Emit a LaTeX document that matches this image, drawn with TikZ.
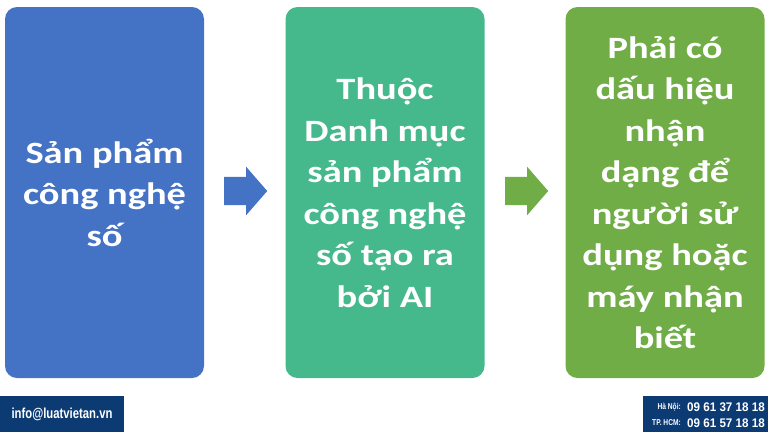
\documentclass[tikz,border=0pt]{standalone}
\usepackage{fontspec}
\setmainfont{Carlito}
\newfontfamily\boxfont[FakeStretch=1.24]{Carlito}
\newfontfamily\condfont[FakeStretch=0.78]{Liberation Sans}
\newfontfamily\numfont[FakeStretch=0.93]{Liberation Sans}
\usetikzlibrary{shapes.arrows}
\definecolor{stageblue}{RGB}{68,114,196}
\definecolor{stageteal}{RGB}{70,185,140}
\definecolor{stagegreen}{RGB}{112,173,71}
\definecolor{navy}{RGB}{12,58,115}
\tikzset{
	stage/.style={rectangle,rounded corners=12pt,minimum width=199pt,minimum height=371pt,inner sep=0pt,align=center,text=white,font=\boxfont\bfseries\fontsize{31}{41.5}\selectfont},
	flow/.style={single arrow,anchor=tail,minimum height=43pt,inner xsep=0pt,inner ysep=14pt,single arrow head extend=10pt,single arrow tip angle=98},
	band/.style={fill=navy,inner sep=0pt,minimum height=36pt},
	small/.style={text=white,inner sep=0pt,font=\condfont\bfseries\fontsize{8.5}{9}\selectfont},
	number/.style={text=white,inner sep=0pt,font=\numfont\bfseries\fontsize{12.5}{14}\selectfont}
}

\begin{document}
\begin{tikzpicture}[x=1pt,y=-1pt]
	\useasboundingbox (0,0) rectangle (768,432);
	
	\node[stage,fill=stageblue] (s1) at (104.5,192.5) {Sản phẩm\\công nghệ\\số};
	\node[stage,fill=stageteal] (s2) at (385,192.5) {Thuộc\\Danh mục\\sản phẩm\\công nghệ\\số tạo ra\\bởi AI};
	\node[stage,fill=stagegreen] (s3) at (665,192.5) {Phải có\\dấu hiệu\\nhận\\dạng để\\người sử\\dụng hoặc\\máy nhận\\biết};
	
	\node[flow,fill=stageblue] (a1) at (224,191) {};
	\node[flow,fill=stagegreen] (a2) at (505,191) {};
	
	% contact bar
	\node[band,minimum width=124pt] (mail) at (62,414) {};
	\node[text=white,font=\condfont\bfseries\fontsize{14.5}{16}\selectfont] at (mail) {info@luatvietan.vn};
	
	\node[band,minimum width=125pt] (phone) at (705.5,414) {};
	\node[small,anchor=east] (hn) at (681,407) {Hà Nội:};
	\node[number,anchor=west] (hnnum) at (687,407) {09 61 37 18 18};
	\node[small,anchor=east] (hcm) at (681,423) {TP. HCM:};
	\node[number,anchor=west] (hcmnum) at (687,423) {09 61 57 18 18};
\end{tikzpicture}
\end{document}
